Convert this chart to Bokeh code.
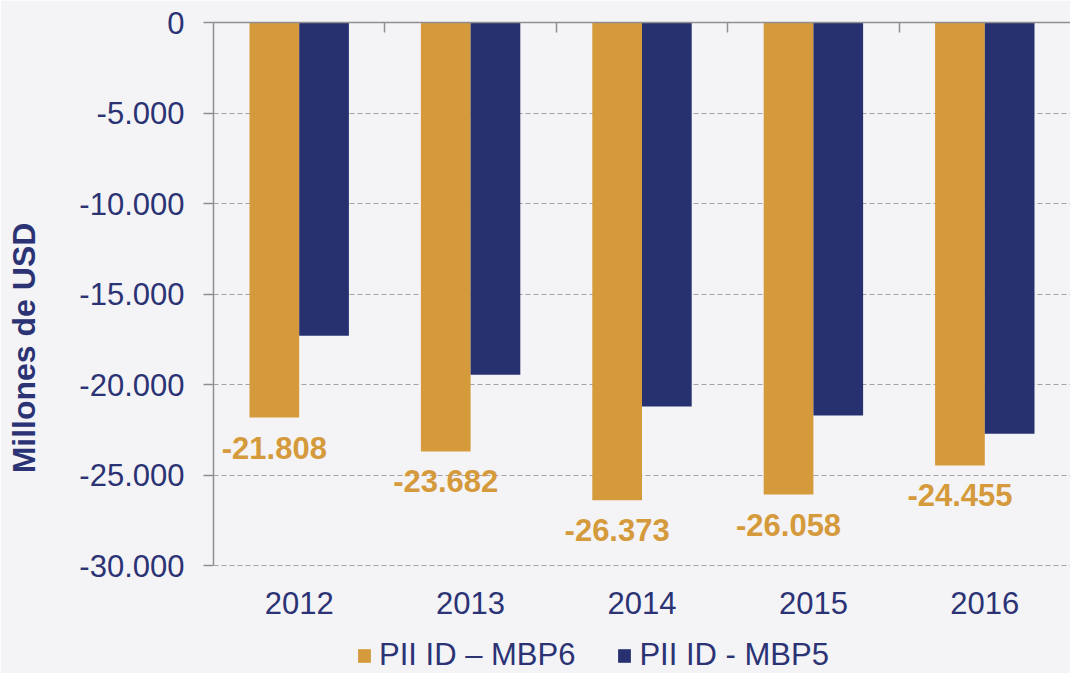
from bokeh.plotting import figure
from bokeh.models import (ColumnDataSource, FactorRange, Range1d, CategoricalAxis, FixedTicker,
                          CustomJSTickFormatter, LabelSet, Legend, LegendItem)
from bokeh.core.properties import value
from bokeh.transform import dodge
from bokeh.embed import file_html
from bokeh.resources import INLINE

years = ["2012", "2013", "2014", "2015", "2016"]
mbp6 = [-21808, -23682, -26373, -26058, -24455]
mbp5 = [-17300, -19450, -21200, -21700, -22700]
labels6 = ["-21.808", "-23.682", "-26.373", "-26.058", "-24.455"]
y_ticks = [0, -5000, -10000, -15000, -20000, -25000, -30000]
edges = ["e1", "e2", "e3", "e4"]   # category boundaries (for top tick marks)
axis_floor = [-30000] * len(years)

ORANGE = "#d59a3b"
NAVY = "#283170"
TEXT = "#2b3374"
BG = "#f4f4f7"
GRAY = "#8f8f8f"
FONT = "Liberation Sans"

src = ColumnDataSource(dict(years=years, mbp6=mbp6, mbp5=mbp5, labels6=labels6, floor=axis_floor))

# frame extends below the -30.000 line so the legend can sit inside it
p = figure(x_range=FactorRange(*years), y_range=Range1d(-35940, 0),
           width=1070, height=673, output_backend="svg", toolbar_location=None,
           background_fill_color=BG, border_fill_color=BG,
           min_border_left=213, min_border_right=0, min_border_top=22, min_border_bottom=0)
p.outline_line_color = None
p.x_range.range_padding = 0

r6 = p.vbar(x=dodge("years", -0.145, range=p.x_range), top=0, bottom="mbp6", width=0.29,
            source=src, fill_color=ORANGE, line_color=None)
r5 = p.vbar(x=dodge("years", 0.145, range=p.x_range), top=0, bottom="mbp5", width=0.29,
            source=src, fill_color=NAVY, line_color=None)

labels = LabelSet(x=dodge("years", -0.145, range=p.x_range), y="mbp6", text="labels6", source=src,
                  y_offset=-30, text_align="center", text_baseline="middle",
                  text_color=ORANGE, text_font=value(FONT), text_font_style="bold",
                  text_font_size="31px")
p.add_layout(labels)

# category labels under the -30.000 line
year_labels = LabelSet(x="years", y="floor", text="years", source=src,
                       y_offset=-37, text_align="center", text_baseline="middle",
                       text_color=TEXT, text_font=value(FONT), text_font_size="31px")
p.add_layout(year_labels)

# y axis
ya = p.yaxis[0]
ya.ticker = FixedTicker(ticks=y_ticks)
ya.bounds = (-30000, 0)
ya.formatter = CustomJSTickFormatter(code="""
const s = Math.abs(tick).toFixed(0).replace(/\\B(?=(\\d{3})+(?!\\d))/g, '.');
return (tick < 0 ? '-' : '') + s;""")
ya.axis_line_color = GRAY
ya.axis_line_width = 1.5
ya.major_tick_line_color = GRAY
ya.major_tick_line_width = 1.5
ya.major_tick_out = 10
ya.major_tick_in = 0
ya.minor_tick_line_color = None
ya.major_label_text_font = FONT
ya.major_label_text_font_size = "31px"
ya.major_label_text_color = TEXT
ya.major_label_standoff = 19
ya.axis_label = "Millones de USD"
ya.axis_label_text_font = FONT
ya.axis_label_text_font_style = "bold"
ya.axis_label_text_font_size = "32px"
ya.axis_label_text_color = TEXT
ya.axis_label_standoff = 34

p.xaxis.visible = False

# top axis line with category-boundary ticks
p.extra_x_ranges = {"edges": FactorRange(factors=edges, range_padding=0.5,
                                         range_padding_units="absolute")}
top = CategoricalAxis(x_range_name="edges")
top.axis_line_color = GRAY
top.axis_line_width = 1.5
top.major_tick_line_color = GRAY
top.major_tick_line_width = 1.5
top.major_tick_in = 10
top.major_tick_out = 0
top.minor_tick_line_color = None
top.major_label_text_font_size = "0px"
top.major_label_text_color = None
top.major_label_standoff = 0
p.add_layout(top, "above")

p.xgrid.grid_line_color = None
p.ygrid.grid_line_color = "#a3a3a3"
p.ygrid.grid_line_dash = "5 3"
p.ygrid.grid_line_width = 1.2

legend = Legend(items=[LegendItem(label="PII ID \u2013 MBP6", renderers=[r6]),
                       LegendItem(label="PII ID - MBP5", renderers=[r5])],
                orientation="horizontal", location=(143, 0),
                background_fill_alpha=0, border_line_color=None,
                label_text_font=FONT, label_text_font_size="31px", label_text_color=TEXT,
                glyph_width=16, glyph_height=17, label_standoff=7, spacing=41,
                padding=0, margin=0)
p.add_layout(legend, "center")

open("out.html", "w").write(file_html(p, INLINE))
